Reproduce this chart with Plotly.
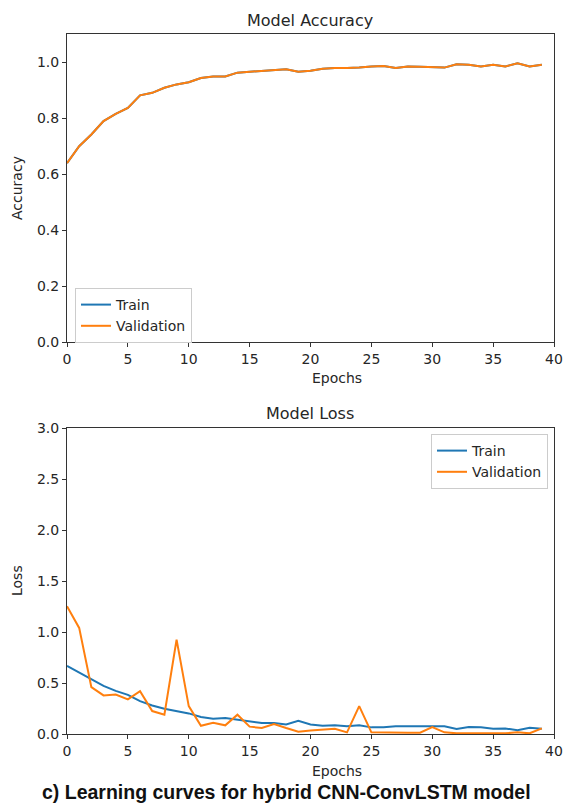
import plotly.graph_objects as go

epochs = list(range(40))

train_acc = [0.639, 0.699, 0.741, 0.789, 0.815, 0.836, 0.881, 0.890, 0.908, 0.920,
             0.928, 0.943, 0.948, 0.948, 0.962, 0.965, 0.966, 0.970, 0.974, 0.965,
             0.969, 0.976, 0.979, 0.979, 0.980, 0.984, 0.986, 0.979, 0.984, 0.983,
             0.981, 0.980, 0.992, 0.990, 0.984, 0.990, 0.984, 0.995, 0.984, 0.990]
val_acc = [0.639, 0.699, 0.741, 0.789, 0.815, 0.836, 0.881, 0.890, 0.908, 0.920,
           0.928, 0.943, 0.948, 0.948, 0.962, 0.965, 0.966, 0.970, 0.974, 0.965,
           0.969, 0.976, 0.979, 0.979, 0.980, 0.984, 0.986, 0.979, 0.984, 0.983,
           0.981, 0.980, 0.992, 0.990, 0.984, 0.990, 0.984, 0.995, 0.984, 0.990]

train_loss = [0.667, 0.602, 0.537, 0.472, 0.423, 0.384, 0.322, 0.280, 0.247, 0.228,
              0.202, 0.166, 0.150, 0.156, 0.140, 0.127, 0.107, 0.107, 0.094, 0.130,
              0.094, 0.081, 0.085, 0.075, 0.085, 0.065, 0.065, 0.075, 0.075, 0.072,
              0.075, 0.075, 0.049, 0.068, 0.065, 0.052, 0.055, 0.036, 0.062, 0.052]
val_loss = [1.253, 1.040, 0.460, 0.378, 0.387, 0.339, 0.420, 0.225, 0.189, 0.925,
            0.273, 0.081, 0.110, 0.085, 0.189, 0.072, 0.059, 0.098, 0.059, 0.023,
            0.035, 0.046, 0.052, 0.016, 0.274, 0.016, 0.013, 0.013, 0.013, 0.013,
            0.068, 0.016, 0.007, 0.007, 0.007, 0.007, 0.007, 0.016, 0.007, 0.055]

x_ticks = [0, 5, 10, 15, 20, 25, 30, 35, 40]
acc_ticks = [0.0, 0.2, 0.4, 0.6, 0.8, 1.0]
loss_ticks = [0.0, 0.5, 1.0, 1.5, 2.0, 2.5, 3.0]

BLUE = "#1f77b4"
ORANGE = "#ff7f0e"
FONT = "DejaVu Sans"
AX = "#333333"
TXT = "#262626"

fig = go.Figure()
fig.add_trace(go.Scatter(x=epochs, y=train_acc, mode="lines", name="Train",
                         line=dict(color=BLUE, width=2), xaxis="x", yaxis="y", legend="legend"))
fig.add_trace(go.Scatter(x=epochs, y=val_acc, mode="lines", name="Validation",
                         line=dict(color=ORANGE, width=2), xaxis="x", yaxis="y", legend="legend"))
fig.add_trace(go.Scatter(x=epochs, y=train_loss, mode="lines", name="Train",
                         line=dict(color=BLUE, width=2), xaxis="x2", yaxis="y2", legend="legend2"))
fig.add_trace(go.Scatter(x=epochs, y=val_loss, mode="lines", name="Validation",
                         line=dict(color=ORANGE, width=2), xaxis="x2", yaxis="y2", legend="legend2"))

# body margin is removed by the post script, so figure coords == window coords
W, H = 563, 807


def px(x):
    return x / W


def py(y):
    return (H - y) / H


xd = [px(67), px(554)]
yd_top = [py(342), py(34)]
yd_bot = [py(734), py(428)]

axis_common = dict(showline=True, linecolor=AX, linewidth=1, mirror=True, ticks="outside",
                   ticklen=4, tickcolor=AX, showgrid=False, zeroline=False, automargin=False,
                   ticklabeloverflow="allow",
                   tickfont=dict(family=FONT, size=14, color=TXT))


def ann(text, x, y, size=14, angle=0, family=FONT, color=TXT):
    return dict(text=text, x=px(x), y=py(y), xref="paper", yref="paper",
                showarrow=False, textangle=angle, xanchor="center", yanchor="middle",
                font=dict(family=family, size=size, color=color))


fig.update_layout(
    width=W, height=H, margin=dict(l=0, r=0, t=0, b=0, autoexpand=False),
    paper_bgcolor="white", plot_bgcolor="white",
    font=dict(family=FONT, color=TXT),
    xaxis=dict(domain=xd, anchor="y", range=[0, 40], tickvals=x_ticks, **axis_common),
    yaxis=dict(domain=yd_top, anchor="x", range=[0, 1.1], tickvals=acc_ticks,
               tickformat=".1f", **axis_common),
    xaxis2=dict(domain=xd, anchor="y2", range=[0, 40], tickvals=x_ticks, **axis_common),
    yaxis2=dict(domain=yd_bot, anchor="x2", range=[0, 3.0], tickvals=loss_ticks,
                tickformat=".1f", **axis_common),
    legend=dict(x=px(75), y=py(288), xanchor="left", yanchor="top",
                bgcolor="rgba(255,255,255,0.8)", bordercolor="#cccccc", borderwidth=1,
                font=dict(family=FONT, size=14, color=TXT), tracegroupgap=0),
    legend2=dict(x=px(548), y=py(434), xanchor="right", yanchor="top",
                 bgcolor="rgba(255,255,255,0.8)", bordercolor="#cccccc", borderwidth=1,
                 font=dict(family=FONT, size=14, color=TXT), tracegroupgap=0),
    annotations=[
        ann("Model Accuracy", 310, 20, size=16),
        ann("Model Loss", 310, 413, size=16),
        ann("Accuracy", 17, 188, angle=-90),
        ann("Epochs", 337, 378),
        ann("Loss", 17, 581, angle=-90),
        ann("Epochs", 337, 771),
        ann("<b>c) Learning curves for hybrid CNN-ConvLSTM model</b>", 286, 792, size=19.5,
            family="Liberation Sans", color="#111111"),
    ],
)

fig.write_html("out.html", config={"displayModeBar": False},
               post_script="document.body.style.margin='0';document.body.style.overflow='hidden';")
